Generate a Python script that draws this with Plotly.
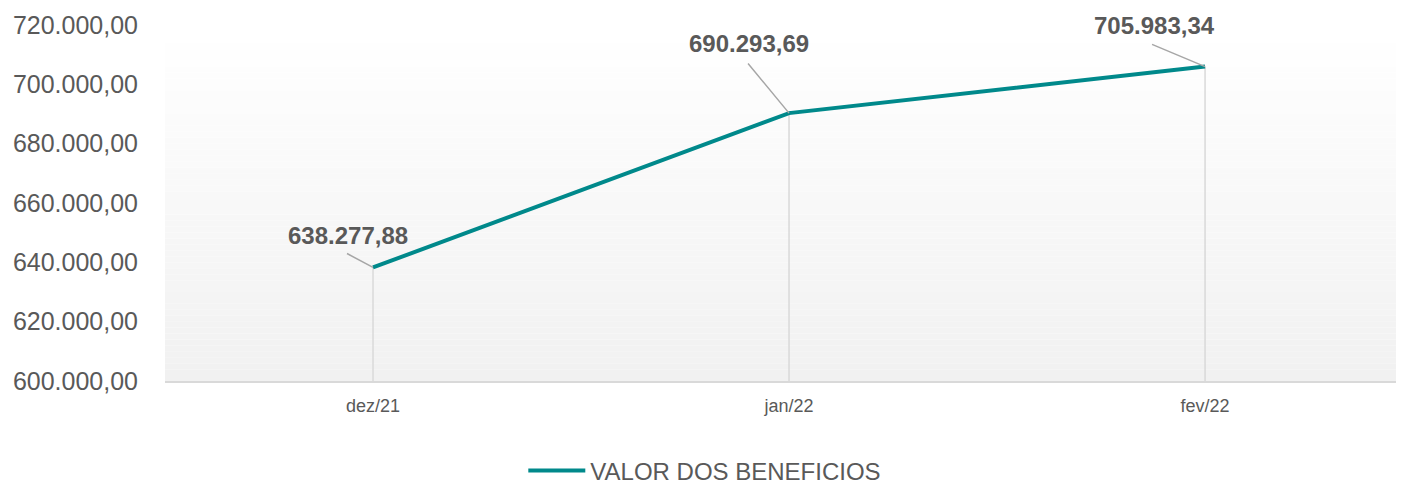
import plotly.graph_objects as go

categories = ["dez/21", "jan/22", "fev/22"]
valores = [638277.88, 690293.69, 705983.34]
series_name = "VALOR DOS BENEFICIOS"
y_ticks = [600000, 620000, 640000, 660000, 680000, 700000, 720000]

Y_MIN, Y_MAX = 600000, 720000
LINE_COLOR = "#00898b"
TEXT_COLOR = "#595959"
FONT = "Liberation Sans, Arial, sans-serif"


def fmt_br(v):
    s = f"{v:,.2f}"
    return s.replace(",", "X").replace(".", ",").replace("X", ".")


xs = list(range(len(categories)))

fig = go.Figure()

# drop lines from each point down to the axis
drop_x, drop_y = [], []
for x, v in zip(xs, valores):
    drop_x += [x, x, None]
    drop_y += [Y_MIN, v, None]
fig.add_trace(go.Scatter(x=drop_x, y=drop_y, mode="lines",
                         line=dict(color="#d9d9d9", width=1.5),
                         hoverinfo="skip", showlegend=False))

fig.add_trace(go.Scatter(x=xs, y=valores, mode="lines", name=series_name,
                         line=dict(color=LINE_COLOR, width=4)))

# gradient plot background (white at top to light gray at bottom)
shapes = []
N = 60
for i in range(N):
    t = i / (N - 1)
    c = int(round(255 - (255 - 241) * (1 - t)))
    shapes.append(dict(type="rect", xref="x domain", yref="y domain",
                       x0=0, x1=1, y0=i / N, y1=(i + 1) / N,
                       fillcolor=f"rgb({c},{c},{c})", line=dict(width=0),
                       layer="below"))

# data labels with leader lines
label_shift = [(-25, 32), (-40, 70), (-51, 41)]
leader = [(-28, -15), (-43, -52), (-55, -23)]
annotations = []
for x, v, (sx, sy), (ax, ay) in zip(xs, valores, label_shift, leader):
    annotations.append(dict(x=x, y=v, xref="x", yref="y", text=" ",
                            showarrow=True, arrowhead=0, arrowwidth=1.5,
                            arrowcolor="#a6a6a6", ax=ax, ay=ay,
                            font=dict(size=2)))
    annotations.append(dict(x=x, y=v, xref="x", yref="y",
                            text=f"<b>{fmt_br(v)}</b>", showarrow=False,
                            xshift=sx, yshift=sy,
                            font=dict(family=FONT, size=24, color=TEXT_COLOR)))

fig.update_layout(
    width=1404, height=481,
    margin=dict(l=165, r=8, t=25, b=100),
    paper_bgcolor="white", plot_bgcolor="white",
    separators=",.",
    font=dict(family=FONT, color=TEXT_COLOR),
    shapes=shapes,
    annotations=annotations,
    showlegend=True,
    legend=dict(orientation="h", xref="container", yref="container",
                x=0.502, xanchor="center", y=0.021, yanchor="middle",
                font=dict(family=FONT, size=24, color=TEXT_COLOR),
                itemwidth=57),
    xaxis=dict(range=[-0.5, 2.459], tickvals=xs, ticktext=categories,
               showgrid=False, zeroline=False, showline=True,
               linecolor="#d9d9d9", linewidth=1.5,
               ticks="", ticklabelstandoff=8,
               tickfont=dict(family=FONT, size=18, color=TEXT_COLOR)),
    yaxis=dict(range=[Y_MIN, Y_MAX], tickvals=y_ticks, tickformat=",.2f",
               showgrid=False, zeroline=False, showline=False, ticks="",
               ticklabelstandoff=26,
               tickfont=dict(family=FONT, size=25, color=TEXT_COLOR)),
)

fig.write_html("out.html")
